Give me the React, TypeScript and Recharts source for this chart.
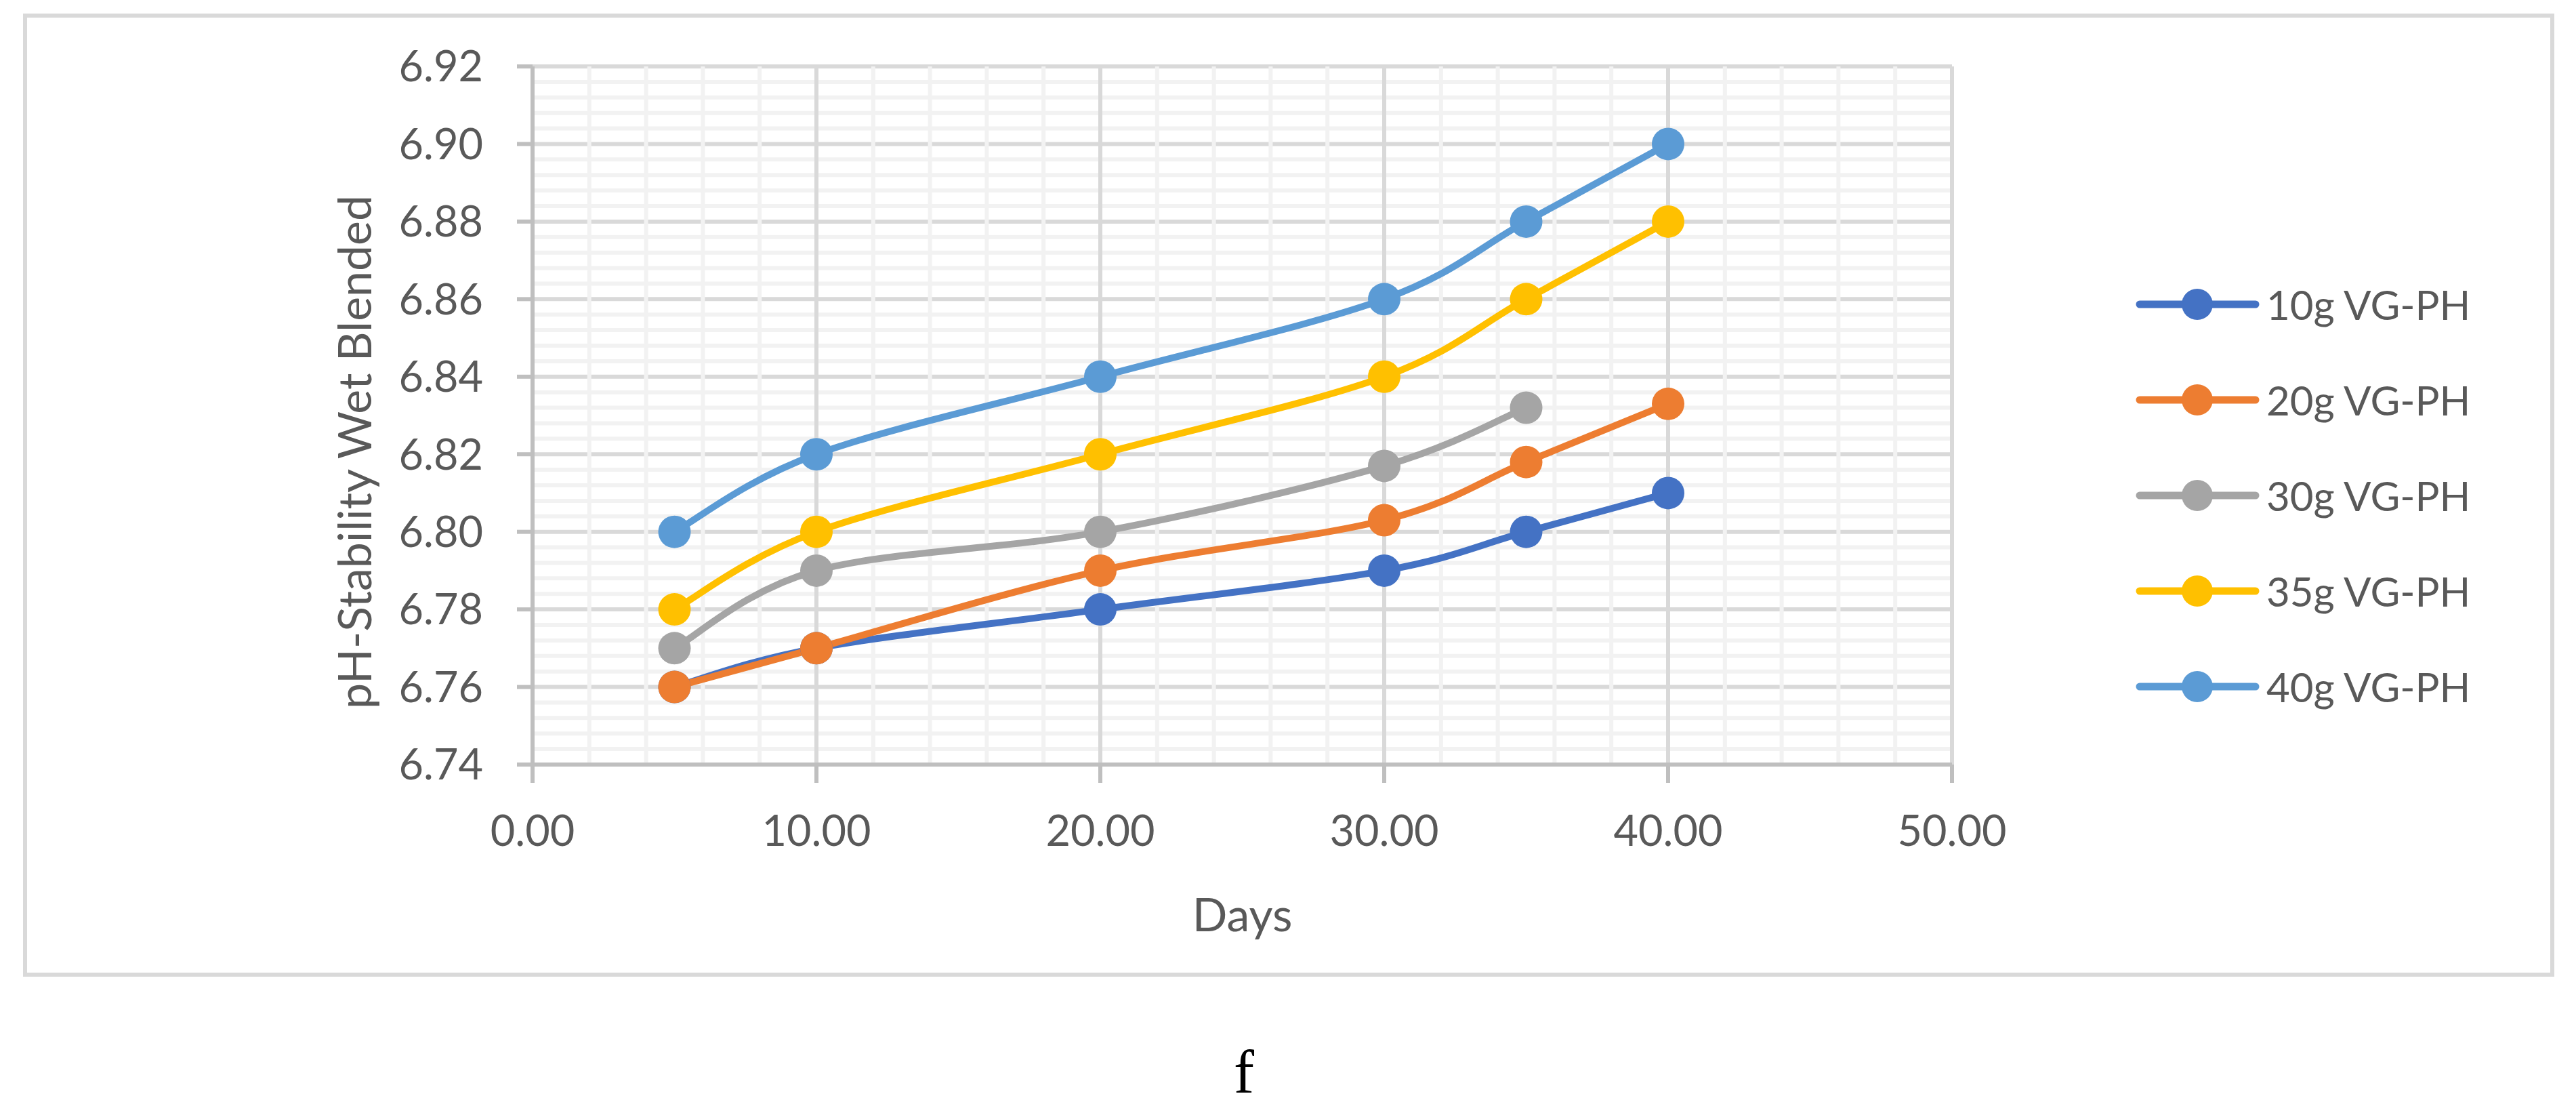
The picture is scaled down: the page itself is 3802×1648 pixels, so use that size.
import React from 'react';
import { LineChart, Line, XAxis, YAxis, ReferenceLine, Legend } from 'recharts';

const days = [5, 10, 20, 30, 35, 40];
const ph10 = [6.76, 6.77, 6.78, 6.79, 6.8, 6.81];
const ph20 = [6.76, 6.77, 6.79, 6.803, 6.818, 6.833];
const ph30 = [6.77, 6.79, 6.8, 6.817, 6.832, null];
const ph35 = [6.78, 6.8, 6.82, 6.84, 6.86, 6.88];
const ph40 = [6.8, 6.82, 6.84, 6.86, 6.88, 6.9];

const seriesNames = ['10g VG-PH', '20g VG-PH', '30g VG-PH', '35g VG-PH', '40g VG-PH'];
const seriesKeys = ['s10', 's20', 's30', 's35', 's40'];
const seriesColors = ['#4472C4', '#ED7D31', '#A5A5A5', '#FFC000', '#5B9BD5'];

const xTicks = [0, 10, 20, 30, 40, 50];
const yTicks = [6.74, 6.76, 6.78, 6.8, 6.82, 6.84, 6.86, 6.88, 6.9, 6.92];

// minor grid steps (Excel style)
const xMinor: number[] = [];
for (let v = 2; v < 50; v += 2) if (v % 10 !== 0) xMinor.push(v);
const yMinor: number[] = [];
for (let i = 0; i < 45; i++) if (i % 5 !== 0) yMinor.push(+(6.74 + i * 0.004).toFixed(3));

const data = days.map((d, i) => ({
  day: d,
  s10: ph10[i],
  s20: ph20[i],
  s30: ph30[i],
  s35: ph35[i],
  s40: ph40[i],
}));

const TEXT = '#595959';
const FONT = 'Lato, "Open Sans", sans-serif';

// Excel-like smoothed line (bezier through points)
const smoothCurve = (context: any) => {
  let pts: number[][] = [];
  return {
    areaStart() {},
    areaEnd() {},
    lineStart() {
      pts = [];
    },
    point(x: number, y: number) {
      pts.push([+x, +y]);
    },
    lineEnd() {
      if (!pts.length) return;
      context.moveTo(pts[0][0], pts[0][1]);
      for (let i = 0; i < pts.length - 1; i++) {
        const p0 = pts[i - 1] || pts[i];
        const p1 = pts[i];
        const p2 = pts[i + 1];
        const p3 = pts[i + 2] || p2;
        context.bezierCurveTo(
          p1[0] + (p2[0] - p0[0]) / 6,
          p1[1] + (p2[1] - p0[1]) / 6,
          p2[0] - (p3[0] - p1[0]) / 6,
          p2[1] - (p3[1] - p1[1]) / 6,
          p2[0],
          p2[1]
        );
      }
    },
  };
};

const LegendBox = () => (
  <div style={{ fontFamily: FONT, color: TEXT, fontSize: 60 }}>
    {seriesNames.map((name, i) => (
      <div key={name} style={{ display: 'flex', alignItems: 'center', height: 141 }}>
        <svg width={190} height={60}>
          <line x1={8} y1={30} x2={179} y2={30} stroke={seriesColors[i]} strokeWidth={11} strokeLinecap="round" />
          <circle cx={93} cy={30} r={23} fill={seriesColors[i]} />
        </svg>
        <span style={{ marginLeft: 5, lineHeight: 1 }}>{name}</span>
      </div>
    ))}
  </div>
);

export default function App() {
  return (
    <div style={{ position: 'absolute', left: 0, top: 0, width: 3802, height: 1648, background: '#fff' }}>
      <div
        style={{
          position: 'absolute',
          left: 34,
          top: 20,
          width: 3736,
          height: 1421,
          border: '6px solid #d9d9d9',
          boxSizing: 'border-box',
        }}
      />
      <div style={{ position: 'absolute', left: 0, top: 0 }}>
        <LineChart width={3802} height={1648} data={data} margin={{ top: 98, right: 921, bottom: 220, left: 0 }}>
          {yMinor.map((v) => (
            <ReferenceLine key={'ym' + v} y={v} stroke="#f2f2f2" strokeWidth={6} />
          ))}
          {yTicks.slice(1).map((v) => (
            <ReferenceLine key={'yM' + v} y={v} stroke="#d9d9d9" strokeWidth={6} />
          ))}
          {xMinor.map((v) => (
            <ReferenceLine key={'xm' + v} x={v} stroke="#f2f2f2" strokeWidth={6} />
          ))}
          {xTicks.slice(1).map((v) => (
            <ReferenceLine key={'xM' + v} x={v} stroke="#d9d9d9" strokeWidth={6} />
          ))}
          <XAxis
            dataKey="day"
            type="number"
            domain={[0, 50]}
            ticks={xTicks}
            height={300}
            tickFormatter={(v: number) => v.toFixed(2)}
            axisLine={{ stroke: '#bfbfbf', strokeWidth: 6 }}
            tickLine={{ stroke: '#bfbfbf', strokeWidth: 6 }}
            tickSize={27}
            tickMargin={48}
            tick={{ fill: TEXT, fontSize: 63, fontFamily: FONT }}
            label={(props: any) => {
              const vb = props.viewBox;
              return (
                <text x={vb.x + vb.width / 2} y={1374} textAnchor="middle" fill={TEXT} fontSize={68} fontFamily={FONT}>
                  Days
                </text>
              );
            }}
          />
          <YAxis
            type="number"
            domain={[6.74, 6.92]}
            ticks={yTicks}
            width={786}
            tickFormatter={(v: number) => v.toFixed(2)}
            axisLine={{ stroke: '#bfbfbf', strokeWidth: 6 }}
            tickLine={{ stroke: '#bfbfbf', strokeWidth: 6 }}
            tickSize={23}
            tickMargin={50}
            tick={{ fill: TEXT, fontSize: 63, fontFamily: FONT }}
            label={(props: any) => (
              <text
                x={521}
                y={667}
                transform="rotate(-90 521 667)"
                textAnchor="middle"
                dominantBaseline="central"
                fill={TEXT}
                fontSize={68}
                fontFamily={FONT}
              >
                pH-Stability Wet Blended
              </text>
            )}
          />
          <Legend
            layout="vertical"
            align="center"
            verticalAlign="middle"
            wrapperStyle={{ left: 3150, top: 378, width: 620 }}
            content={() => <LegendBox />}
          />
          {seriesKeys.map((k, i) => (
            <Line
              key={k}
              dataKey={k}
              name={seriesNames[i]}
              type={smoothCurve as any}
              stroke={seriesColors[i]}
              strokeWidth={10}
              dot={{ r: 24, fill: seriesColors[i], stroke: 'none', strokeWidth: 0 }}
              activeDot={false}
              isAnimationActive={false}
            />
          ))}
        </LineChart>
      </div>
      <div
        style={{
          position: 'absolute',
          left: 1636,
          width: 400,
          top: 1530,
          textAlign: 'center',
          fontFamily: '"Liberation Serif", "Times New Roman", serif',
          fontSize: 90,
          color: '#000',
        }}
      >
        f
      </div>
    </div>
  );
}
